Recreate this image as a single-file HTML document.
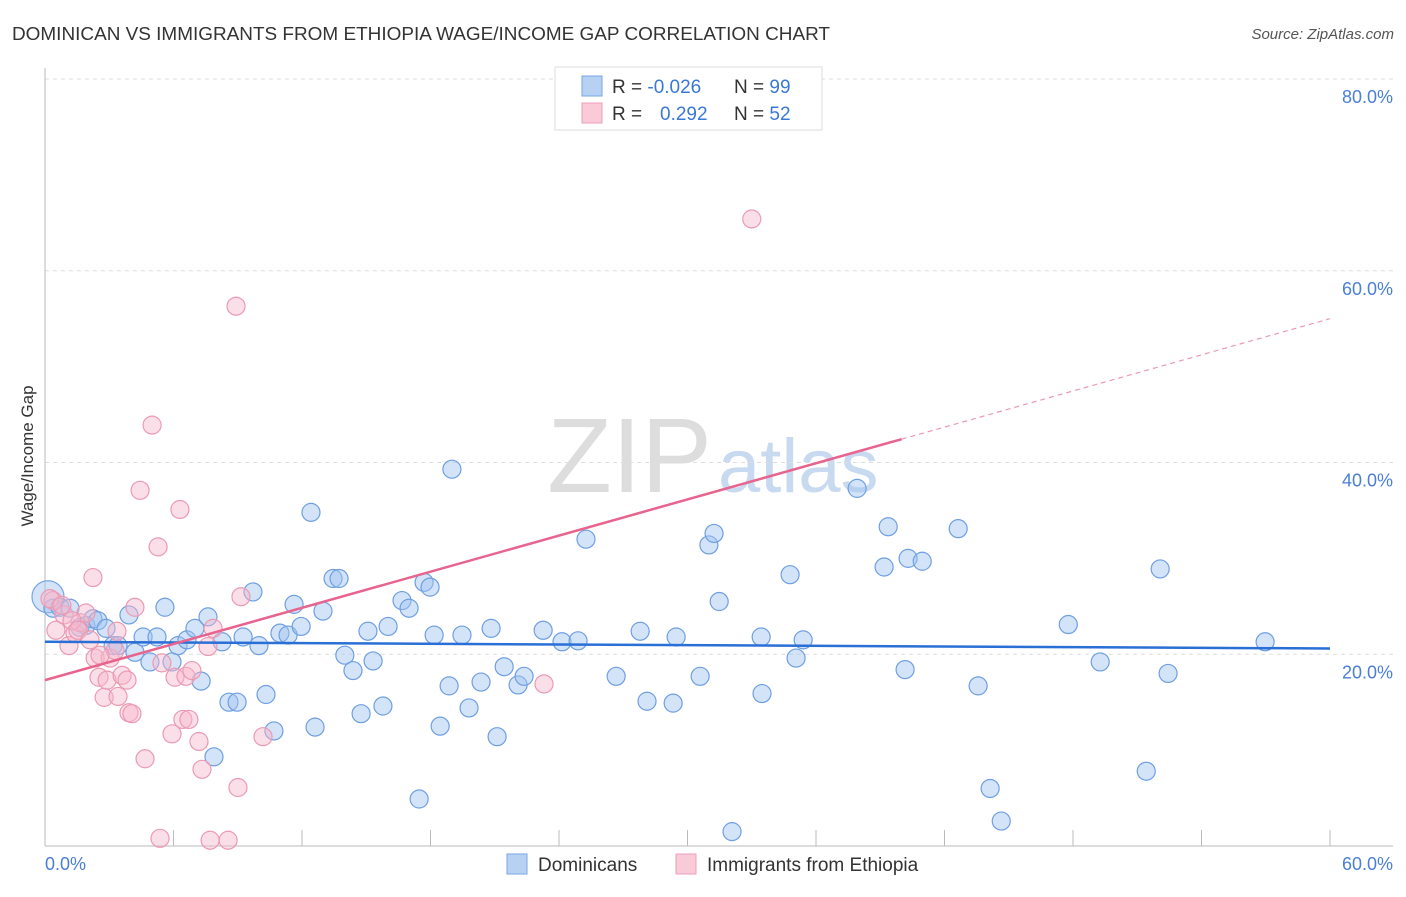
<!DOCTYPE html>
<html><head><meta charset="utf-8"><style>
body{margin:0;background:#fff;font-family:"Liberation Sans",sans-serif;}
svg text{font-family:"Liberation Sans",sans-serif;}
</style></head><body>
<svg id="chart" width="1406" height="892" xmlns="http://www.w3.org/2000/svg">
<text x="12" y="40" font-size="18" fill="#333" textLength="818" lengthAdjust="spacingAndGlyphs">DOMINICAN VS IMMIGRANTS FROM ETHIOPIA WAGE/INCOME GAP CORRELATION CHART</text>
<text x="1394" y="39" font-size="15" fill="#555" font-style="italic" text-anchor="end">Source: ZipAtlas.com</text>
<g>
<text x="712" y="492" font-size="106" fill="#ddd" font-family="Liberation Serif" text-anchor="end">ZIP</text>
<text x="718" y="492" font-size="76" fill="#c8daf0">atlas</text>
</g>
<g id="grid"></g>
<g id="axes"></g>
<g id="pts"></g>
<g id="trend"></g>
<text x="0" y="0" transform="translate(33,456) rotate(-90)" font-size="17" fill="#333" text-anchor="middle">Wage/Income Gap</text>
<text x="45" y="870" font-size="18" fill="#4a7fd6">0.0%</text>
<text x="1393" y="870" font-size="18" fill="#4a7fd6" text-anchor="end">60.0%</text>
<g>
<rect x="555" y="67" width="267" height="63" fill="#fff" stroke="#ddd"/>
<rect x="582" y="76" width="20" height="20" fill="#b7d1f3" stroke="#7aa6e3"/>
<rect x="582" y="103" width="20" height="20" fill="#f9cad8" stroke="#ec9fb6"/>
<text x="612" y="93" font-size="19" fill="#333">R = <tspan fill="#3a78d8">-0.026</tspan><tspan x="734">N = </tspan><tspan fill="#3a78d8">99</tspan></text>
<text x="612" y="120" font-size="19" fill="#333">R = <tspan x="660" fill="#3a78d8">0.292</tspan><tspan x="734">N = </tspan><tspan fill="#3a78d8">52</tspan></text>
</g>
<g>
<rect x="507" y="854" width="20" height="20" fill="#b7d1f3" stroke="#7aa6e3"/>
<text x="538" y="871" font-size="19" fill="#333">Dominicans</text>
<rect x="676" y="854" width="20" height="20" fill="#f9cad8" stroke="#ec9fb6"/>
<text x="707" y="871" font-size="19" fill="#333">Immigrants from Ethiopia</text>
</g>
</svg>
<script>
const yTicks=[20,40,60,80];
const yTickLabels=["20.0%","40.0%","60.0%","80.0%"];
const xTicks=[6,12,18,24,30,36,42,48,54,60];
const blueX=[0.37,0.7,1.17,1.63,1.91,2.24,2.47,2.85,3.18,3.41,3.92,4.2,4.58,4.9,5.23,5.6,5.93,6.21,6.63,7.0,7.29,7.61,7.89,8.27,8.59,8.97,9.25,9.71,9.99,10.32,10.69,10.97,11.35,11.63,11.96,12.42,12.61,12.98,13.45,13.73,14.0,14.38,14.76,15.08,15.32,15.78,16.02,16.67,17.0,17.47,17.7,17.98,18.17,18.45,18.87,19.0,19.47,19.8,20.36,20.83,21.11,21.44,22.09,22.37,23.26,24.14,24.89,25.26,26.67,27.79,28.11,29.33,29.47,30.59,31.0,31.24,31.48,32.08,33.44,33.48,34.79,35.07,35.4,37.92,39.18,39.37,40.16,40.3,40.96,42.64,43.57,44.13,44.65,47.78,49.27,51.42,52.07,52.44,56.97];
const blueY=[24.8,24.9,24.8,22.8,23.0,23.7,23.5,22.7,20.9,20.9,24.1,20.2,21.8,19.2,21.8,24.9,19.2,20.9,21.5,22.7,17.2,23.9,9.3,21.3,15.0,15.0,21.8,26.5,20.9,15.8,12.0,22.2,22.0,25.2,22.9,34.8,12.4,24.5,27.9,27.9,19.9,18.3,13.8,22.4,19.3,14.6,22.9,25.6,24.8,4.9,27.5,27.0,22.0,12.5,16.7,39.3,22.0,14.4,17.1,22.7,11.4,18.7,16.8,17.7,22.5,21.3,21.4,32.0,17.7,22.4,15.1,14.9,21.8,17.7,31.4,32.6,25.5,1.5,21.8,15.9,28.3,19.6,21.5,37.3,29.1,33.3,18.4,30.0,29.7,33.1,16.7,6.0,2.6,23.1,19.2,7.8,28.9,18.0,21.3];
const pinkX=[0.37,0.51,0.89,1.12,1.4,1.63,1.91,2.24,2.34,2.52,2.76,2.9,3.04,3.36,3.41,3.6,3.83,3.92,4.06,4.2,4.44,4.67,5.0,5.28,5.37,5.46,5.93,6.07,6.3,6.44,6.58,6.72,6.86,7.19,7.33,7.61,7.71,7.85,8.55,8.92,9.01,9.15,10.18,23.3,33.0,0.23,0.79,1.26,1.54,2.1,3.27,2.57];
const pinkY=[25.6,22.5,24.1,20.9,22.2,23.3,24.3,28.0,19.6,17.6,15.5,17.3,19.6,22.4,15.6,17.8,17.3,13.9,13.8,24.9,37.1,9.1,43.9,31.2,0.8,19.1,11.7,17.6,35.1,13.2,17.7,13.2,18.3,10.9,8.0,20.8,0.6,22.7,0.6,56.3,6.1,26.0,11.4,16.9,65.4,25.8,25.1,23.5,22.5,21.5,20.4,19.9];
const blueTrend=[21.3,20.6];   // y at x=0 and x=60
const pinkTrend=[17.3,55.0];   // y at x=0 and x=60
const pinkSolidEnd=40;
const NS="http://www.w3.org/2000/svg";
const X0=45,X1=1330,Y0=846,Y80=79;
function sx(v){return X0+(X1-X0)*v/60;}
function sy(v){return Y0-(Y0-Y80)*v/80;}
function mk(tag,attrs,parent){const e=document.createElementNS(NS,tag);for(const k in attrs)e.setAttribute(k,attrs[k]);document.getElementById(parent).appendChild(e);return e;}
yTicks.forEach((t,i)=>{
  const l=mk('line',{x1:X0,x2:1393,y1:sy(t),y2:sy(t),stroke:'#ddd','stroke-dasharray':'4,4'},'grid');
  
  
  const tx=mk('text',{x:1393,y:sy(t)+24,'font-size':18,fill:'#4a7fd6','text-anchor':'end'},'grid');
  tx.textContent=yTickLabels[i];
  
  
});
let ax=mk('line',{x1:X0,x2:X0,y1:68,y2:Y0,stroke:'#bbb'},'axes');


ax=mk('line',{x1:X0,x2:1393,y1:Y0,y2:Y0,stroke:'#bbb'},'axes');


xTicks.forEach(t=>{
  const l=mk('line',{x1:sx(t),x2:sx(t),y1:Y0-16,y2:Y0,stroke:'#bbb'},'axes');
  
  
});
let big=mk('circle',{cx:sx(0.14),cy:sy(26),r:16,fill:'rgba(160,195,240,0.45)',stroke:'#7aa6e3','stroke-width':1.2},'pts');


blueX.forEach((x,i)=>{
  const c=mk('circle',{cx:sx(x),cy:sy(blueY[i]),r:9,fill:'rgba(160,195,240,0.45)',stroke:'#6e9fe2','stroke-width':1.2},'pts');
  
  
});
pinkX.forEach((x,i)=>{
  const c=mk('circle',{cx:sx(x),cy:sy(pinkY[i]),r:9,fill:'rgba(247,185,205,0.45)',stroke:'#eb9ab3','stroke-width':1.2},'pts');
  
  
});
let t=mk('line',{x1:sx(0),y1:sy(blueTrend[0]),x2:sx(60),y2:sy(blueTrend[1]),stroke:'#2a6fd6','stroke-width':2.5},'trend');


const pf=x=>pinkTrend[0]+(pinkTrend[1]-pinkTrend[0])*x/60;
t=mk('line',{x1:sx(0),y1:sy(pf(0)),x2:sx(pinkSolidEnd),y2:sy(pf(pinkSolidEnd)),stroke:'#e8648e','stroke-width':2.5},'trend');


t=mk('line',{x1:sx(pinkSolidEnd),y1:sy(pf(pinkSolidEnd)),x2:sx(60),y2:sy(pf(60)),stroke:'#eb9ab3','stroke-width':1.2,'stroke-dasharray':'5,4'},'trend');


</script>
</body></html>
